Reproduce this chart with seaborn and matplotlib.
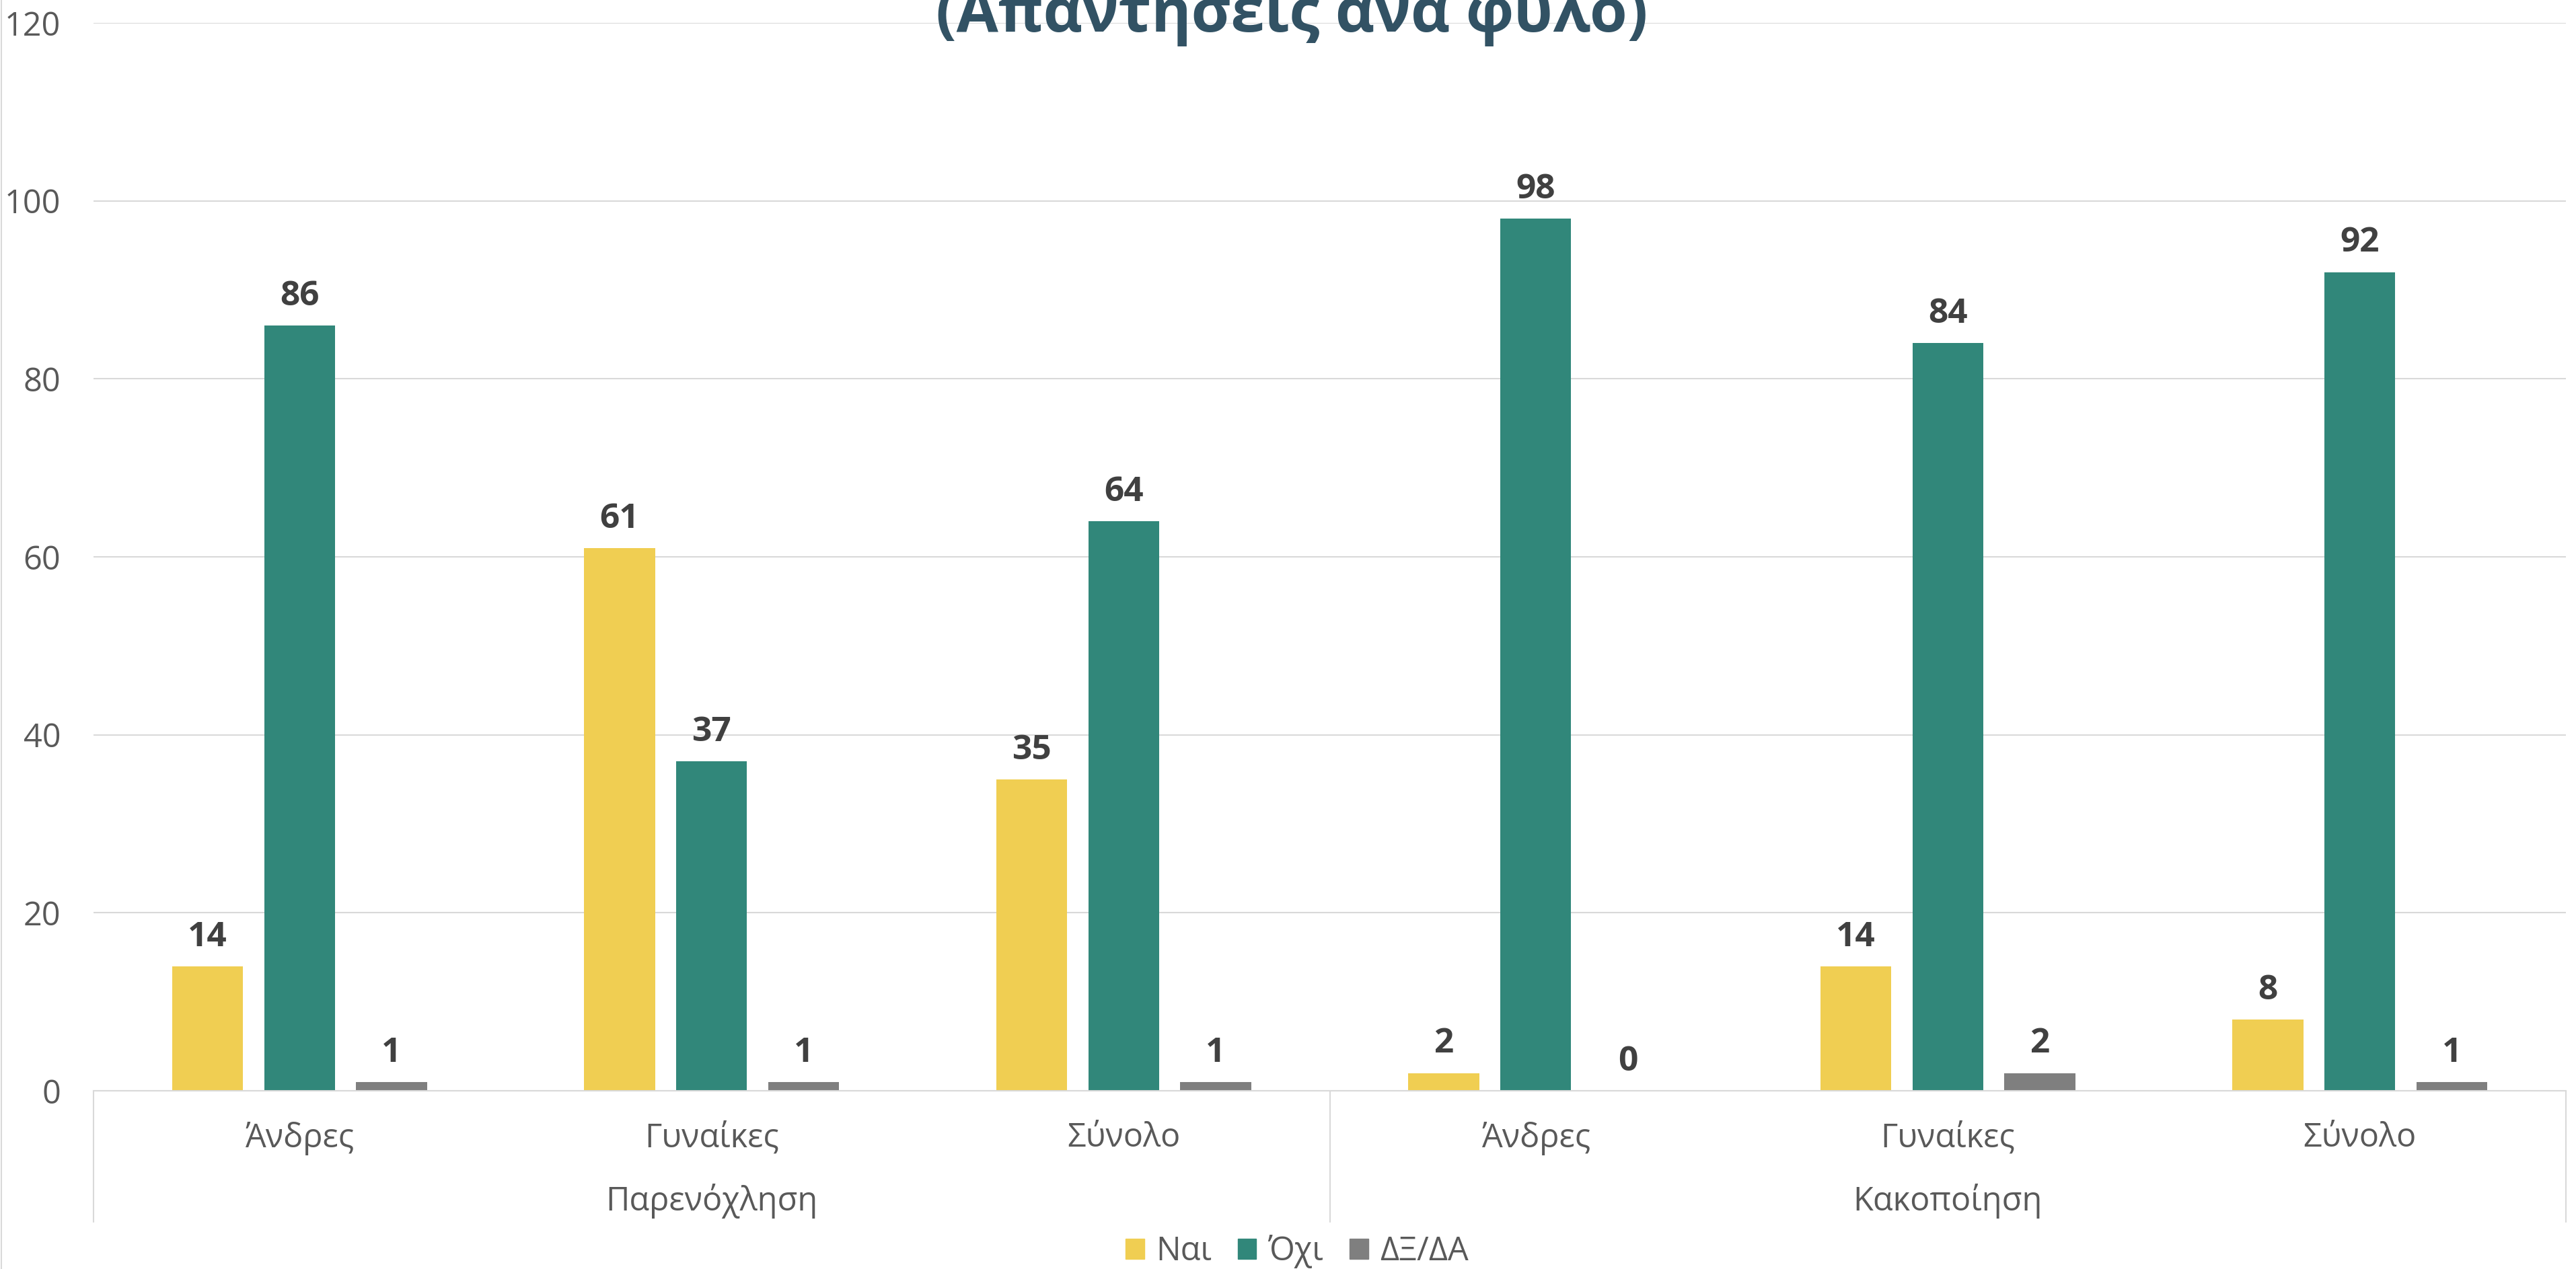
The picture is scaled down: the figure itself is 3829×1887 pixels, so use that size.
import seaborn as sns
import matplotlib.pyplot as plt
import matplotlib.transforms as mtransforms
from matplotlib.lines import Line2D
import pandas as pd

groups = ["Παρενόχληση", "Κακοποίηση"]
subgroups = ["Άνδρες", "Γυναίκες", "Σύνολο"]
answers = ["Ναι", "Όχι", "ΔΞ/ΔΑ"]
nai = [14, 61, 35, 2, 14, 8]
oxi = [86, 37, 64, 98, 84, 92]
dxda = [1, 1, 1, 0, 2, 1]
colors = ["#F0CE52", "#31877A", "#7F7F7F"]
title = "(Απαντήσεις ανά φύλο)"

# long table, one key per group/subgroup pair so duplicate names stay apart
keys = [g + "|" + s for g in groups for s in subgroups]
rows = []
for ans, vals in zip(answers, [nai, oxi, dxda]):
    for k, v in zip(keys, vals):
        rows.append({"key": k, "answer": ans, "value": v})
df = pd.DataFrame(rows)

sns.set_style("white")
plt.rcParams["font.family"] = ["Open Sans", "DejaVu Sans"]

fig = plt.figure(figsize=(38.29, 18.87), dpi=100)
ax = fig.add_axes([139 / 3829, 1 - 1622 / 1887, (3814 - 139) / 3829, (1622 - 34) / 1887])

sns.barplot(data=df, x="key", y="value", hue="answer", order=keys,
            hue_order=answers, palette=colors, saturation=1, width=0.67,
            gap=0.23, linewidth=0, ax=ax, legend=False)

for cont in ax.containers:
    ax.bar_label(cont, padding=13, fontsize=37, fontweight="bold", color="#404040")

ax.set_ylim(0, 120)
ax.set_xlim(-0.5, 5.5)
ax.set_yticks(range(0, 121, 20))
ax.set_xticks(range(len(keys)))
ax.set_xticklabels([k.split("|")[1] for k in keys])
ax.set_xlabel("")
ax.set_ylabel("")
ax.tick_params(axis="y", length=0, pad=35, labelsize=35, labelcolor="#595959")
ax.tick_params(axis="x", length=0, pad=33, labelsize=35, labelcolor="#595959")
ax.grid(axis="y", color="#D9D9D9", linewidth=1.5)
ax.set_axisbelow(True)
for side in ["left", "right", "top"]:
    ax.spines[side].set_visible(False)
ax.spines["bottom"].set_color("#D9D9D9")
ax.spines["bottom"].set_linewidth(1.5)

# group label box under the axis
depth = -(1817 - 1622) / (1622 - 34)
for xv in [-0.5, 2.5, 5.5]:
    ax.axvline(xv, ymin=depth, ymax=0, color="#D9D9D9", linewidth=1.5, clip_on=False)
trans = mtransforms.blended_transform_factory(ax.transData, ax.transAxes)
for i, g in enumerate(groups):
    ax.text(i * 3 + 1, -(1800 - 1622) / (1622 - 34), g, transform=trans,
            ha="center", va="baseline", fontsize=35, color="#595959")

handles = [plt.Rectangle((0, 0), 1, 1, color=c) for c in colors]
fig.legend(handles, answers, loc="center", bbox_to_anchor=(0.5035, 1 - 1861 / 1887),
           ncol=3, frameon=False, fontsize=35, labelcolor="#595959",
           handlelength=0.57, handleheight=0.57, handletextpad=0.35,
           columnspacing=0.8)

# title runs off the top edge, as in the source image
fig.text(0.5014, 1 - 47 / 1887, title, ha="center", va="baseline",
         fontsize=65, fontweight="bold", color="#325264")

fig.add_artist(Line2D([0.0006, 0.0006], [0, 1], color="#D9D9D9", linewidth=1.5))

fig.savefig("out.png", dpi=100, facecolor="white")
